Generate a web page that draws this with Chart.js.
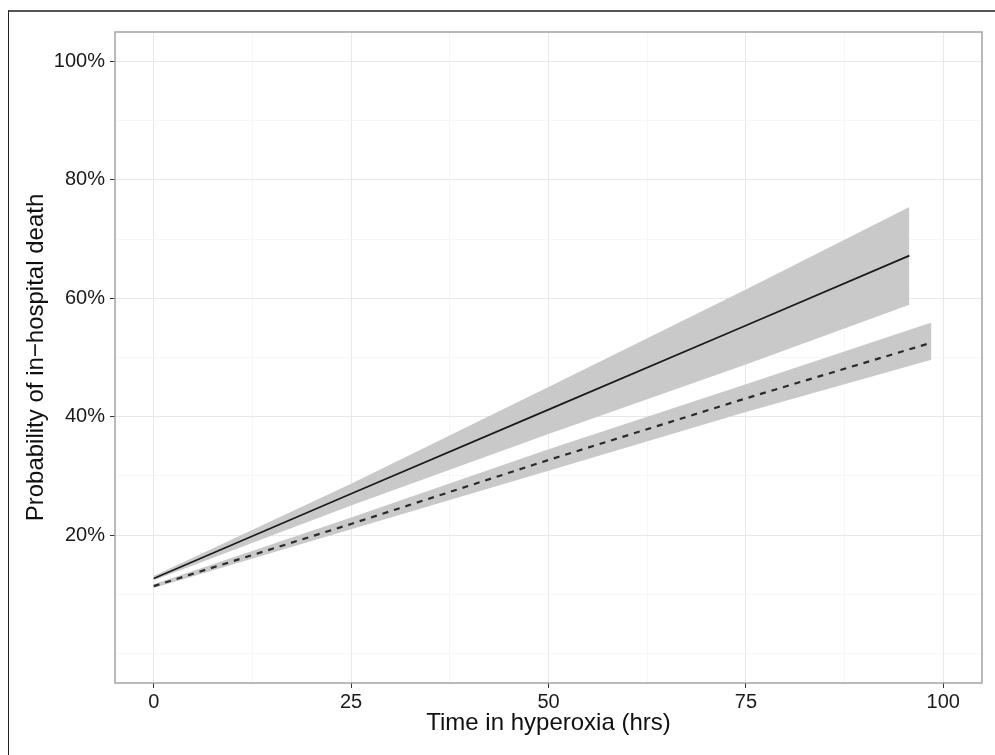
<!DOCTYPE html>
<html>
<head>
<meta charset="utf-8">
<script src="https://cdn.jsdelivr.net/npm/chart.js@4"></script>
<style>
  body { margin: 0; background: #fff; overflow: hidden; }
  #wrap { position: relative; width: 995px; height: 755px; }
  #frame { position: absolute; left: 8px; top: 10px; right: 0; bottom: 0;
           border-left: 1.5px solid #222; border-top: 2px solid #555; pointer-events: none; }
</style>
</head>
<body>
<div id="wrap">
  <canvas id="myChart"></canvas>
  <div id="frame"></div>
</div>
<script>
// datos (porcentaje)
const hoursA = [0, 25, 50, 75, 95.7];
const probA = [12.7, 27.0, 41.2, 55.4, 67.2];
const lowA = [12.4, 25.0, 37.1, 48.8, 58.9];
const highA = [13.1, 28.7, 45.0, 61.5, 75.4];

const hoursB = [0, 25, 50, 75, 98.5];
const probB = [11.4, 21.9, 32.7, 43.1, 52.5];
const lowB = [11.1, 21.0, 30.9, 40.8, 49.6];
const highB = [11.7, 23.0, 34.5, 45.5, 55.9];

const xGrid = [0, 12.5, 25, 37.5, 50, 62.5, 75, 87.5, 100];
const xLabels = ['0', '25', '50', '75', '100'];
const yGrid = [0, 10, 20, 30, 40, 50, 60, 70, 80, 90, 100];
const yLabels = ['20%', '40%', '60%', '80%', '100%'];

const pts = (xs, ys) => xs.map((x, i) => ({ x: x, y: ys[i] }));

const band = '#c9c9c9';

// borde del panel (arriba y derecha incluidos)
const panelBorder = {
  id: 'panelBorder',
  afterDraw(chart) {
    const a = chart.chartArea;
    const c = chart.ctx;
    c.save();
    c.strokeStyle = '#a3a3a3';
    c.lineWidth = 1.5;
    c.strokeRect(a.left, a.top, a.right - a.left, a.bottom - a.top);
    c.restore();
  }
};

const ctx = document.getElementById('myChart');

new Chart(ctx, {
  type: 'line',
  data: {
    datasets: [
      { data: pts(hoursA, probA), borderColor: '#1a1a1a', borderWidth: 1.7, pointRadius: 0, fill: false },
      { data: pts(hoursB, probB), borderColor: '#2a2a2a', borderWidth: 2.2, borderDash: [6, 6], pointRadius: 0, fill: false },
      { data: pts(hoursA, highA), borderWidth: 0, pointRadius: 0, backgroundColor: band, fill: '+1' },
      { data: pts(hoursA, lowA), borderWidth: 0, pointRadius: 0, fill: false },
      { data: pts(hoursB, highB), borderWidth: 0, pointRadius: 0, backgroundColor: band, fill: '+1' },
      { data: pts(hoursB, lowB), borderWidth: 0, pointRadius: 0, fill: false }
    ]
  },
  options: {
    responsive: true,
    maintainAspectRatio: false,
    animation: false,
    layout: { padding: { left: 0, top: 32, right: 13, bottom: 0 } },
    plugins: { legend: { display: false }, tooltip: { enabled: false } },
    scales: {
      x: {
        type: 'linear',
        min: -4.9,
        max: 104.9,
        afterBuildTicks: s => { s.ticks = xGrid.map(v => ({ value: v })); },
        afterFit: s => { s.height = 72; },
        border: { display: false },
        grid: {
          color: c => (c.tick && c.tick.value % 25 === 0) ? '#e8e8e8' : '#f3f3f3',
          lineWidth: c => (c.tick && c.tick.value % 25 === 0) ? 1 : 0.7,
          tickColor: c => (c.tick && c.tick.value % 25 === 0) ? '#333' : 'rgba(0,0,0,0)',
          tickLength: 5
        },
        ticks: {
          autoSkip: false,
          maxRotation: 0,
          padding: 2,
          color: '#1a1a1a',
          font: { family: 'Liberation Sans', size: 20 },
          callback: v => v % 25 === 0 ? xLabels[v / 25] : ''
        },
        title: {
          display: true,
          text: 'Time in hyperoxia (hrs)',
          color: '#111',
          font: { family: 'Liberation Sans', size: 24 },
          padding: { top: 0, bottom: 17 }
        }
      },
      y: {
        type: 'linear',
        min: -4.95,
        max: 104.95,
        afterBuildTicks: s => { s.ticks = yGrid.map(v => ({ value: v })); },
        afterFit: s => { s.width = 115; },
        border: { display: false },
        grid: {
          color: c => (c.tick && c.tick.value % 20 === 0 && c.tick.value > 0) ? '#e8e8e8' : '#f3f3f3',
          lineWidth: c => (c.tick && c.tick.value % 20 === 0 && c.tick.value > 0) ? 1 : 0.7,
          tickColor: c => (c.tick && c.tick.value % 20 === 0 && c.tick.value > 0) ? '#333' : 'rgba(0,0,0,0)',
          tickLength: 5
        },
        ticks: {
          autoSkip: false,
          padding: 5,
          color: '#1a1a1a',
          font: { family: 'Liberation Sans', size: 20 },
          callback: v => (v % 20 === 0 && v > 0) ? yLabels[v / 20 - 1] : ''
        },
        title: {
          display: true,
          text: 'Probability of in\u2212hospital death',
          color: '#111',
          font: { family: 'Liberation Sans', size: 24 },
          padding: { top: 22, bottom: 0 }
        }
      }
    }
  },
  plugins: [panelBorder]
});
</script>
</body>
</html>
